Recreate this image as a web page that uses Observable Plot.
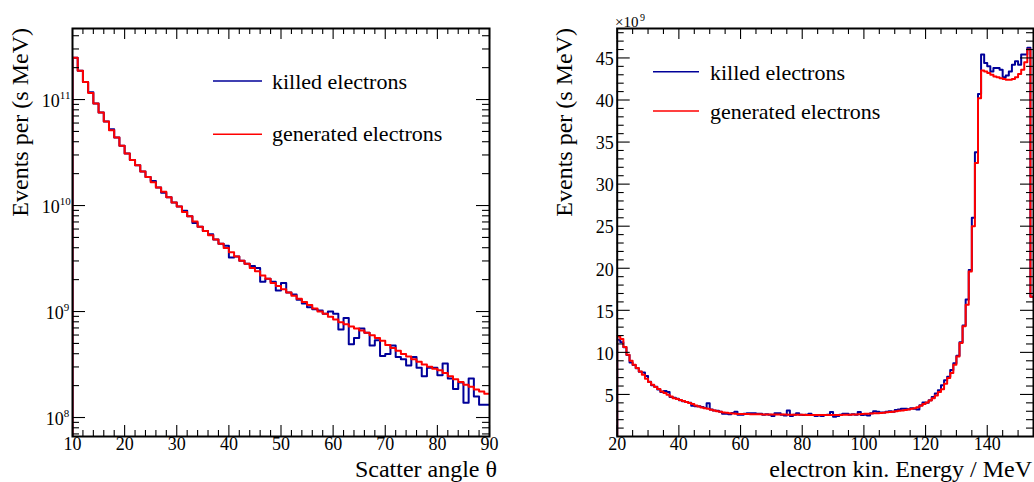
<!DOCTYPE html>
<html><head><meta charset="utf-8">
<script src="https://cdn.jsdelivr.net/npm/d3@7"></script>
<script src="https://cdn.jsdelivr.net/npm/@observablehq/plot@0.6"></script>
<style>
html,body{margin:0;padding:0;background:#fff;}
#wrap{position:relative;width:1034px;height:482px;overflow:hidden;background:#fff;font-family:"Liberation Serif";}
#wrap svg{position:absolute;top:0;font-family:"Liberation Serif";}
#wrap svg text{font-family:"Liberation Serif","DejaVu Serif",serif !important;}
</style></head><body><div id="wrap"></div>
<script>
// ---------- data: left panel (scatter angle, 1 degree bins starting at 10) ----------
const angleBinStart = d3.range(10, 90, 1);
const angleKilled = [
 2.48e11,1.87e11,1.46e11,1.17e11,9.16e10,7.53e10,6.19e10,5.25e10,4.38e10,3.67e10,
 3.09e10,2.69e10,2.40e10,2.09e10,1.86e10,1.70e10,1.48e10,1.32e10,1.20e10,1.07e10,
 9.77e9,8.91e9,7.94e9,6.84e9,6.31e9,5.75e9,5.37e9,4.79e9,4.37e9,4.17e9,
 3.24e9,3.31e9,3.02e9,2.82e9,2.69e9,2.57e9,1.91e9,2.04e9,1.91e9,1.58e9,
 1.86e9,1.51e9,1.45e9,1.29e9,1.19e9,1.10e9,1.05e9,1.02e9,9.55e8,1.00e9,
 9.55e8,6.76e8,8.71e8,4.90e8,5.62e8,6.92e8,6.31e8,4.79e8,5.37e8,3.80e8,
 3.98e8,4.79e8,3.72e8,3.55e8,3.09e8,3.72e8,2.95e8,2.45e8,2.95e8,2.95e8,
 2.51e8,3.24e8,2.34e8,1.86e8,2.14e8,1.38e8,2.34e8,1.58e8,1.32e8,1.32e8];
const angleGenerated = [
 2.48e11,1.87e11,1.46e11,1.15e11,9.16e10,7.53e10,6.19e10,5.13e10,4.38e10,3.67e10,
 3.09e10,2.69e10,2.40e10,2.09e10,1.86e10,1.66e10,1.48e10,1.35e10,1.20e10,1.07e10,
 9.77e9,8.71e9,7.94e9,7.08e9,6.31e9,5.75e9,5.25e9,4.79e9,4.37e9,3.98e9,
 3.63e9,3.31e9,3.02e9,2.82e9,2.57e9,2.40e9,2.19e9,2.04e9,1.86e9,1.74e9,
 1.62e9,1.51e9,1.41e9,1.32e9,1.23e9,1.15e9,1.07e9,1.00e9,9.55e8,8.91e8,
 8.41e8,7.94e8,7.59e8,7.24e8,6.92e8,6.61e8,6.31e8,5.96e8,5.62e8,5.31e8,
 4.84e8,4.52e8,4.27e8,3.98e8,3.76e8,3.55e8,3.35e8,3.16e8,3.02e8,2.88e8,
 2.79e8,2.63e8,2.45e8,2.29e8,2.16e8,2.04e8,1.95e8,1.84e8,1.76e8,1.68e8];

// ---------- data: right panel (kinetic energy, 1 MeV bins starting at 20, units of 1e9) ----------
const energyBinStart = d3.range(20, 155, 1);
const energyKilled = [
 11.5,11.2,10.6,9.7,8.8,8.5,8.1,7.7,7.6,7.2,
 6.5,6.1,5.9,5.6,5.3,5.4,5.3,4.7,4.6,4.5,
 4.3,4.2,4.1,4.0,3.65,3.6,3.6,3.5,3.4,3.95,
 3.2,3.1,3.05,2.95,2.7,2.7,2.65,2.8,2.95,2.6,
 2.6,2.7,2.75,2.75,2.75,2.7,2.7,2.6,2.65,2.6,
 2.45,2.75,2.75,2.6,2.5,3.1,2.45,2.6,2.75,2.6,
 2.55,2.6,2.7,2.55,2.45,2.5,2.45,2.55,2.6,2.9,
 2.35,2.45,2.6,2.7,2.7,2.6,2.65,2.6,2.9,2.55,
 2.6,2.5,2.75,3.0,2.95,2.85,2.85,2.95,3.0,2.95,
 3.15,3.2,3.3,3.3,3.25,3.35,3.3,3.2,3.7,4.05,
 4.0,4.3,4.7,5.1,5.5,6.1,6.7,7.1,7.9,8.7,
 9.6,11.2,13.2,16.3,19.8,26.0,33.8,40.7,45.4,44.4,
 44.0,43.4,43.8,43.8,43.6,42.7,42.9,43.4,44.2,44.6,
 44.2,45.4,45.4,46.2,16.6];
const energyGenerated = [
 11.9,11.58,10.63,9.71,9.0,8.53,8.13,7.73,7.34,6.86,
 6.47,6.15,5.87,5.64,5.35,5.16,4.96,4.76,4.56,4.45,
 4.33,4.21,4.09,3.97,3.85,3.69,3.57,3.45,3.37,3.29,
 3.17,3.09,3.01,2.93,2.85,2.81,2.77,2.73,2.70,2.68,
 2.67,2.66,2.66,2.65,2.65,2.64,2.64,2.63,2.63,2.62,
 2.62,2.62,2.61,2.61,2.61,2.60,2.60,2.59,2.59,2.58,
 2.58,2.57,2.57,2.56,2.56,2.55,2.55,2.55,2.55,2.55,
 2.56,2.56,2.57,2.58,2.59,2.60,2.61,2.63,2.65,2.67,
 2.69,2.71,2.73,2.75,2.77,2.80,2.83,2.87,2.91,2.95,
 3.00,3.05,3.10,3.16,3.22,3.29,3.37,3.49,3.65,3.85,
 4.04,4.28,4.56,4.88,5.28,5.63,6.27,6.94,7.54,8.53,
 9.51,11.1,13.1,15.66,19.6,25.0,32.5,40.2,43.5,43.4,
 43.2,43.0,42.8,42.7,42.6,42.5,42.4,42.4,42.5,42.7,
 43.1,43.6,44.5,46.0,16.6];

// ---------- ticks ----------
const angleMajor = [10,20,30,40,50,60,70,80,90];
const angleMinor = [12,14,16,18,22,24,26,28,32,34,36,38,42,44,46,48,52,54,56,58,62,64,66,68,72,74,76,78,82,84,86,88];
const decades1 = [1e8, 1e9];
const decades2 = [1e10, 1e11];
const decadeMinor = [7e7,8e7,9e7,2e8,3e8,4e8,5e8,6e8,7e8,8e8,9e8,2e9,3e9,4e9,5e9,6e9,7e9,8e9,9e9,
  2e10,3e10,4e10,5e10,6e10,7e10,8e10,9e10,2e11,3e11,4e11];
const energyMajor = [20,40,60,80,100,120,140];
const energyMinor = [25,30,35,45,50,55,65,70,75,85,90,95,105,110,115,125,130,135,145,150];
const countMajor = [5,10,15,20,25,30,35,40,45];
const countMinor = [1,2,3,4,6,7,8,9,11,12,13,14,16,17,18,19,21,22,23,24,26,27,28,29,31,32,33,34,36,37,38,39,41,42,43,44,46,47,48];

const BLUE = "#000099", RED = "#ff0000";
const FONT = "Liberation Serif, DejaVu Serif, serif";

function stepPoints(starts, values, width, floor) {
  const pts = [{x: starts[0], y: floor}];
  starts.forEach((s, i) => pts.push({x: s, y: values[i]}));
  pts.push({x: starts[starts.length - 1] + width, y: values[values.length - 1]});
  return pts;
}

function frameTicks(xMaj, xMin, yMaj, yMin, pw, ph) {
  const s = {stroke: "#000", strokeWidth: 1.1};
  return [
    Plot.ruleX(xMaj, {x: d => d, insetTop: ph - 11, ...s}),
    Plot.ruleX(xMaj, {x: d => d, insetBottom: ph - 11, ...s}),
    Plot.ruleX(xMin, {x: d => d, insetTop: ph - 6, ...s}),
    Plot.ruleX(xMin, {x: d => d, insetBottom: ph - 6, ...s}),
    Plot.ruleY(yMaj, {y: d => d, insetRight: pw - 13, ...s}),
    Plot.ruleY(yMaj, {y: d => d, insetLeft: pw - 13, ...s}),
    Plot.ruleY(yMin, {y: d => d, insetRight: pw - 7, ...s}),
    Plot.ruleY(yMin, {y: d => d, insetLeft: pw - 7, ...s})
  ];
}

const wrap = document.getElementById("wrap");

// ---------- left panel ----------
const L = {w: 517, h: 482, ml: 72, mr: 28, mt: 28, mb: 46};
const yMinL = 6.62e7, yMaxL = 4.68e11;
const left = Plot.plot({
  width: L.w, height: L.h,
  marginLeft: L.ml, marginRight: L.mr, marginTop: L.mt, marginBottom: L.mb,
  style: {fontFamily: FONT, background: "transparent", overflow: "visible", color: "#000"},
  x: {domain: [10, 90], axis: null},
  y: {type: "log", domain: [yMinL, yMaxL], axis: null},
  marks: [
    Plot.line(stepPoints(angleBinStart, angleKilled, 1, yMinL), {x: "x", y: "y", curve: "step-after", stroke: BLUE, strokeWidth: 2, clip: true}),
    Plot.line(stepPoints(angleBinStart, angleGenerated, 1, yMinL), {x: "x", y: "y", curve: "step-after", stroke: RED, strokeWidth: 2, clip: true}),
    ...frameTicks(angleMajor, angleMinor, [...decades1, ...decades2], decadeMinor, L.w - L.ml - L.mr, L.h - L.mt - L.mb),
    Plot.frame({stroke: "#000", strokeWidth: 2}),
    Plot.text(angleMajor, {x: d => d, frameAnchor: "bottom", dy: 13, text: d => String(d), fontSize: 18}),
    Plot.text(decades1, {y: d => d, frameAnchor: "left", textAnchor: "end", dx: -8.7, dy: 2, text: d => "10", fontSize: 18}),
    Plot.text(decades1, {y: d => d, frameAnchor: "left", textAnchor: "start", dx: -8.7, dy: -4, text: d => String(Math.round(Math.log10(d))), fontSize: 11}),
    Plot.text(decades2, {y: d => d, frameAnchor: "left", textAnchor: "end", dx: -12.7, dy: 2, text: d => "10", fontSize: 18}),
    Plot.text(decades2, {y: d => d, frameAnchor: "left", textAnchor: "start", dx: -12.7, dy: -4, text: d => String(Math.round(Math.log10(d))), fontSize: 11})
  ]
});
left.style.left = "0px";
wrap.appendChild(left);

// ---------- right panel ----------
const R = {w: 517, h: 482, ml: 99.7, mr: 1, mt: 28, mb: 46};
const right = Plot.plot({
  width: R.w, height: R.h,
  marginLeft: R.ml, marginRight: R.mr, marginTop: R.mt, marginBottom: R.mb,
  style: {fontFamily: FONT, background: "transparent", overflow: "visible", color: "#000"},
  x: {domain: [20, 155], axis: null},
  y: {domain: [0, 48.5], axis: null},
  marks: [
    Plot.line(stepPoints(energyBinStart, energyKilled, 1, 0), {x: "x", y: "y", curve: "step-after", stroke: BLUE, strokeWidth: 2, clip: true}),
    Plot.line(stepPoints(energyBinStart, energyGenerated, 1, 0), {x: "x", y: "y", curve: "step-after", stroke: RED, strokeWidth: 2, clip: true}),
    ...frameTicks(energyMajor, energyMinor, countMajor, countMinor, R.w - R.ml - R.mr, R.h - R.mt - R.mb),
    Plot.frame({stroke: "#000", strokeWidth: 2}),
    Plot.text(energyMajor, {x: d => d, frameAnchor: "bottom", dy: 13, text: d => String(d), fontSize: 18}),
    Plot.text(countMajor, {y: d => d, frameAnchor: "left", textAnchor: "end", dx: -3.5, dy: 1.5, text: d => String(d), fontSize: 18})
  ]
});
right.style.left = "517px";
wrap.appendChild(right);

// ---------- titles, legends ----------
function addText(svg, x, y, str, size, anchor, rot) {
  const t = d3.select(svg).append("text")
    .attr("font-family", FONT).attr("font-size", size).attr("fill", "#000")
    .attr("text-anchor", anchor || "start").text(str);
  if (rot) t.attr("transform", `translate(${x},${y}) rotate(${rot})`);
  else t.attr("x", x).attr("y", y);
  return t;
}
function addLine(svg, x1, x2, y, color) {
  d3.select(svg).append("line").attr("x1", x1).attr("x2", x2).attr("y1", y).attr("y2", y)
    .attr("stroke", color).attr("stroke-width", 1.6);
}
// left
addLine(left, 213, 262, 81, BLUE);
addText(left, 272, 89, "killed electrons", 22);
addLine(left, 213, 262, 134.3, RED);
addText(left, 272, 141, "generated electrons", 22);
addText(left, 28, 28, "Events per (s MeV)", 24, "end", -90);
addText(left, 497, 477, "Scatter angle θ", 24, "end");
// right (local coordinates = page x - 517)
addLine(right, 136, 182, 71.7, BLUE);
addText(right, 193, 79.5, "killed electrons", 22);
addLine(right, 136, 182, 111, RED);
addText(right, 193, 119, "generated electrons", 22);
addText(right, 55, 28, "Events per (s MeV)", 24, "end", -90);
addText(right, 515, 477, "electron kin. Energy / MeV", 24, "end");
addText(right, 98, 26.5, "×10", 15);
addText(right, 123, 21, "9", 10);
</script>
</body></html>
